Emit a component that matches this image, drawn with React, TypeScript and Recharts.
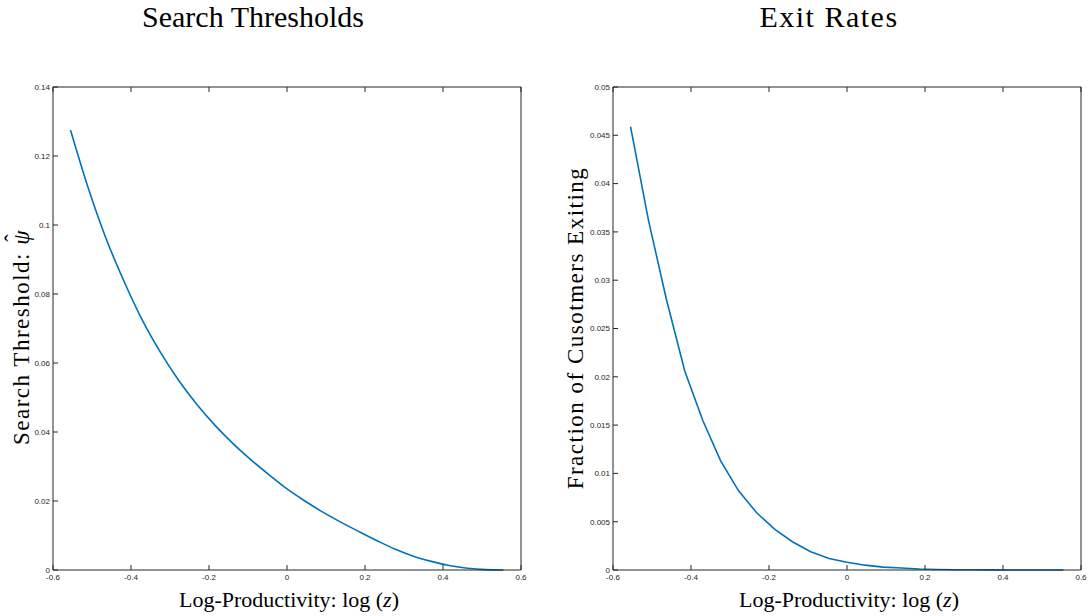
import React from "react";
import { LineChart, Line, XAxis, YAxis } from "recharts";

// log-productivity grid
const logZ = [
  -0.555, -0.509, -0.463, -0.416, -0.37, -0.324, -0.278, -0.231, -0.185,
  -0.139, -0.093, -0.046, 0, 0.046, 0.093, 0.139, 0.185, 0.231, 0.278, 0.324,
  0.37, 0.416, 0.463, 0.509, 0.555,
];

// search threshold psi-hat
const searchThreshold = [
  0.1275, 0.1105, 0.0958, 0.0832, 0.0722, 0.063, 0.055, 0.048, 0.042,
  0.0367, 0.032, 0.0276, 0.0235, 0.02, 0.0167, 0.0138, 0.0111, 0.0085, 0.006,
  0.004, 0.0025, 0.0013, 0.0005, 0.0001, 0,
];

// fraction of customers exiting
const exitRate = [
  0.0459, 0.0362, 0.028, 0.0206, 0.0155, 0.0113, 0.0082, 0.0059, 0.0042,
  0.0029, 0.0019, 0.0012, 0.0008, 0.0005, 0.0003, 0.0002, 0.0001, 0.00005,
  0.00003, 0.00002, 0.00001, 0, 0, 0, 0,
];

const xTicks = [-0.6, -0.4, -0.2, 0, 0.2, 0.4, 0.6];
const thresholdTicks = [0, 0.02, 0.04, 0.06, 0.08, 0.1, 0.12, 0.14];
const exitTicks = [
  0, 0.005, 0.01, 0.015, 0.02, 0.025, 0.03, 0.035, 0.04, 0.045, 0.05,
];

const AXIS = "#262626";
const LINE = "#0072BD";
const SERIF = "'Liberation Serif', 'DejaVu Serif', serif";
const tickFont = { fontSize: 8, fill: AXIS, fontFamily: "'Liberation Sans', Arial, sans-serif" };

const fmt = (v: number) => String(parseFloat(v.toFixed(4)));
const blank = () => "";

const XLabel = ({ viewBox }: any) => (
  <text
    x={viewBox.x + viewBox.width / 2 + 2}
    y={viewBox.y + 37}
    textAnchor="middle"
    fontFamily={SERIF}
    fontSize={22}
    fill="#000"
  >
    Log-Productivity: log (<tspan fontStyle="italic">z</tspan>)
  </text>
);

function makeYLabel(text: React.ReactNode, x: number, cy: number) {
  return () => (
    <text
      x={x}
      y={cy}
      transform={`rotate(-90 ${x} ${cy})`}
      textAnchor="middle"
      fontFamily={SERIF}
      fontSize={23}
      letterSpacing={1.5}
      fill="#000"
    >
      {text}
    </text>
  );
}

interface PanelProps {
  data: { x: number; y: number }[];
  yTicks: number[];
  yMax: number;
  marginLeft: number;
  marginRight: number;
  curve: "linear" | "monotone";
  yLabel: () => React.ReactElement;
}

// axes need a non-zero size to render, so each takes 1px out of the margin
function Panel({ data, yTicks, yMax, marginLeft, marginRight, curve, yLabel }: PanelProps) {
  return (
    <LineChart
      width={545}
      height={616}
      data={data}
      margin={{ top: 86, bottom: 45, left: marginLeft - 1, right: marginRight - 1 }}
    >
      <XAxis
        dataKey="x"
        type="number"
        domain={[-0.6, 0.6]}
        ticks={xTicks}
        tickFormatter={fmt}
        height={1}
        tickSize={-5}
        tickMargin={9}
        stroke={AXIS}
        tick={tickFont}
        label={<XLabel />}
      />
      <XAxis
        xAxisId="top"
        orientation="top"
        dataKey="x"
        type="number"
        domain={[-0.6, 0.6]}
        ticks={xTicks}
        tickFormatter={blank}
        height={1}
        tickSize={-5}
        stroke={AXIS}
      />
      <YAxis
        type="number"
        domain={[0, yMax]}
        ticks={yTicks}
        tickFormatter={fmt}
        width={1}
        tickSize={-5}
        tickMargin={8}
        stroke={AXIS}
        tick={tickFont}
        label={yLabel}
      />
      <YAxis
        yAxisId="right"
        orientation="right"
        type="number"
        domain={[0, yMax]}
        ticks={yTicks}
        tickFormatter={blank}
        width={1}
        tickSize={-5}
        stroke={AXIS}
      />
      <Line
        dataKey="y"
        type={curve}
        stroke={LINE}
        strokeWidth={1.6}
        dot={false}
        isAnimationActive={false}
      />
    </LineChart>
  );
}

const titleStyle: React.CSSProperties = {
  position: "absolute",
  top: 0,
  fontFamily: SERIF,
  fontSize: 30,
  lineHeight: "34px",
  color: "#000",
  textAlign: "center",
  width: 400,
};

export default function App() {
  const left = logZ.map((x, i) => ({ x, y: searchThreshold[i] }));
  const right = logZ.map((x, i) => ({ x, y: exitRate[i] }));
  return (
    <div
      style={{
        position: "absolute",
        left: 0,
        top: 0,
        width: 1090,
        height: 616,
        background: "#fff",
      }}
    >
      <div style={{ ...titleStyle, left: 53 }}>Search Thresholds</div>
      <div style={{ ...titleStyle, left: 629, letterSpacing: 1.5 }}>Exit Rates</div>
      <div style={{ position: "absolute", left: 0, top: 0 }}>
        <Panel
          data={left}
          yTicks={thresholdTicks}
          yMax={0.14}
          marginLeft={53}
          marginRight={24}
          curve="monotone"
          yLabel={makeYLabel(
            <>
              Search Threshold:{" "}
              <tspan fontStyle="italic">{"\u03c8"}</tspan>
              <tspan dx={-13} dy={-8}>{"\u02c6"}</tspan>
            </>,
            29,
            337
          )}
        />
      </div>
      <div style={{ position: "absolute", left: 545, top: 0 }}>
        <Panel
          data={right}
          yTicks={exitTicks}
          yMax={0.05}
          marginLeft={68}
          marginRight={9}
          curve="linear"
          yLabel={makeYLabel("Fraction of Cusotmers Exiting", 38, 328)}
        />
      </div>
    </div>
  );
}
